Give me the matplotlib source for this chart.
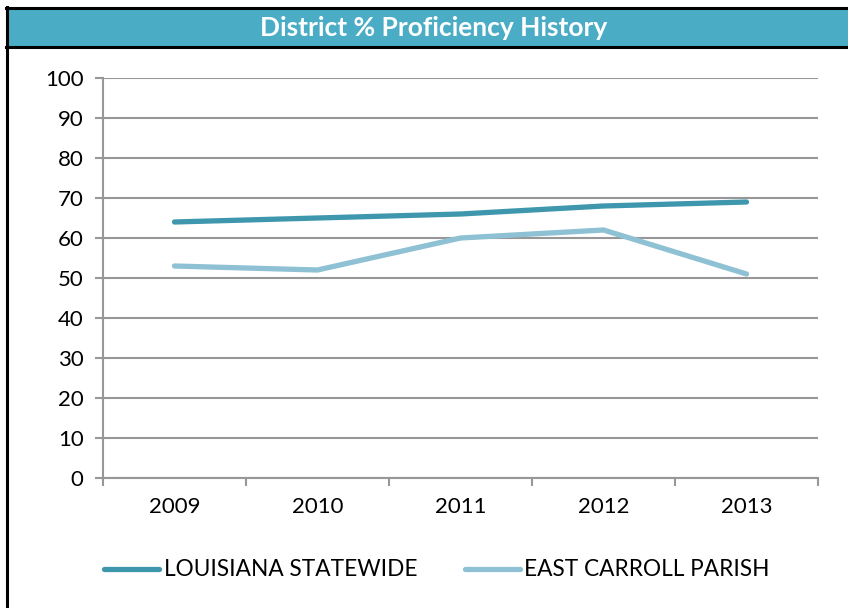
import matplotlib
matplotlib.use("Agg")
import matplotlib.pyplot as plt
from matplotlib.patches import Rectangle
from matplotlib.lines import Line2D

years = ["2009", "2010", "2011", "2012", "2013"]
statewide = [64, 65, 66, 68, 69]
parish = [53, 52, 60, 62, 51]
series_names = ["LOUISIANA STATEWIDE", "EAST CARROLL PARISH"]
title = "District % Proficiency History"

dark = "#3F97AE"
light = "#8DC1D3"
grid_c = "#979797"

plt.rcParams['font.family'] = ['Lato', 'DejaVu Sans']

fig = plt.figure(figsize=(8.48, 6.08), dpi=100)
W, H = 848, 608

# frame: title bar and black edges
fig.patches.append(Rectangle((6 / W, 1 - 46 / H), 1, 37 / H, transform=fig.transFigure,
                             facecolor="#4BACC6", edgecolor="none", zorder=0))
fig.add_artist(Line2D([6 / W, 1], [1 - 8 / H, 1 - 8 / H], color="black", lw=2.2))
fig.add_artist(Line2D([6 / W, 1], [1 - 47 / H, 1 - 47 / H], color="black", lw=2.2))
fig.add_artist(Line2D([6.5 / W, 6.5 / W], [0, 1 - 7 / H], color="black", lw=2.2))
fig.text(434 / W, 1 - 28 / H, title, color="white", fontsize=19, fontweight="bold",
         ha="center", va="center")

ax = fig.add_axes([103 / W, 1 - 478 / H, 715 / W, 400 / H])
x = [i + 0.5 for i in range(len(years))]
ax.plot(x, statewide, color=dark, lw=3.8, solid_capstyle="round", label=series_names[0], zorder=3)
ax.plot(x, parish, color=light, lw=3.8, solid_capstyle="round", label=series_names[1], zorder=3)

ax.set_xlim(0, len(years))
ax.set_ylim(0, 100)
ax.set_yticks(range(0, 101, 10))
ax.set_xticks(range(len(years) + 1))
ax.set_xticklabels([])
ax.set_xticks(x, minor=True)
ax.set_xticklabels(years, minor=True)
ax.tick_params(axis="x", which="minor", length=0, pad=14, labelsize=16)
ax.tick_params(axis="x", which="major", length=6, width=1.5, color=grid_c, direction="out")
ax.tick_params(axis="y", length=6, width=1.5, color=grid_c, pad=8, labelsize=16)
ax.yaxis.grid(True, color=grid_c, lw=1.5)
ax.set_axisbelow(True)
for s in ["top", "right"]:
    ax.spines[s].set_visible(False)
for s in ["left", "bottom"]:
    ax.spines[s].set_color(grid_c)
    ax.spines[s].set_linewidth(1.5)

fig.legend(loc="center", bbox_to_anchor=(437 / W, 1 - 570 / H), ncol=2, frameon=False,
           fontsize=16.3, handlelength=2.43, handletextpad=0.2, columnspacing=2.1)

fig.savefig("out.png", dpi=100)
